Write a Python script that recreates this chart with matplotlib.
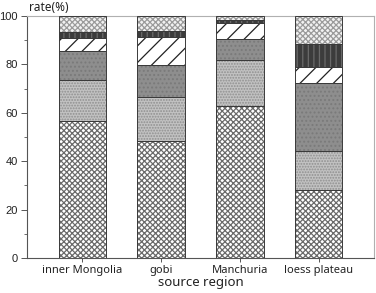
import numpy as np
import matplotlib.pyplot as plt
from matplotlib.ticker import MultipleLocator

plt.rcParams["hatch.linewidth"] = 0.9

# 数据 (%)
regions = ["inner Mongolia", "gobi", "Manchuria", "loess plateau"]
s1 = [56.5, 48.2, 62.8, 28.1]
s2 = [17.0, 18.5, 18.9, 16.2]
s3 = [12.0, 13.1, 8.8, 28.0]
s4 = [5.5, 11.4, 6.7, 6.7]
s5 = [2.5, 2.7, 1.1, 9.6]
s6 = [6.5, 6.1, 1.7, 11.4]

series = [s1, s2, s3, s4, s5, s6]
# (填充色, 纹理, 纹理颜色)
styles = [
    ("white", "xxxxxx", "#6a6a6a"),
    ("#c2c2c2", "......", "#8f8f8f"),
    ("#8e8e8e", "....", "#7a7a7a"),
    ("white", "//", "#222222"),
    ("#3c3c3c", "|||", "#6a6a6a"),
    ("#f2f2f2", "xxxxxx", "#9a9a9a"),
]

fig = plt.figure(figsize=(3.76, 2.93), dpi=100)
ax = fig.add_axes([0.0718, 0.1195, 0.9229, 0.8255])

x = np.arange(len(regions))
bottom = np.zeros(len(regions))
for vals, (fc, hatch, hc) in zip(series, styles):
    ax.bar(x, vals, 0.6, bottom=bottom, color=fc, hatch=hatch,
           edgecolor=hc, linewidth=0, zorder=2)
    ax.bar(x, vals, 0.6, bottom=bottom, fill=False,
           edgecolor="#3a3a3a", linewidth=0.7, zorder=3)
    bottom += np.array(vals)

ax.set_xlim(-0.7, 3.7)
ax.set_ylim(0, 100)
ax.yaxis.set_major_locator(MultipleLocator(20))
ax.yaxis.set_minor_locator(MultipleLocator(10))
ax.set_xticks(x)
ax.set_xticklabels(regions, fontsize=8, family="Noto Sans", color="#222222")
ax.tick_params(axis="y", which="major", length=4, width=0.7, labelsize=8,
               colors="#555555", labelcolor="#222222", pad=2.5)
ax.tick_params(axis="y", which="minor", length=2.5, width=0.6, colors="#555555")
ax.tick_params(axis="x", length=3, width=0.7, colors="#555555",
               labelcolor="#222222", pad=2)
for lab in ax.get_yticklabels():
    lab.set_family("Liberation Sans")

for side in ["left", "bottom"]:
    ax.spines[side].set_color("#555555")
    ax.spines[side].set_linewidth(0.8)
for side in ["top", "right"]:
    ax.spines[side].set_color("#b0b0b0")
    ax.spines[side].set_linewidth(0.8)

ax.set_xlabel("source region", fontsize=9.5, family="Noto Sans",
              color="#222222", labelpad=0)
fig.text(0.13, 0.975, "rate(%)", fontsize=8.5, family="Noto Sans",
         color="#222222", ha="center", va="center")

fig.savefig("out.png", dpi=100)
